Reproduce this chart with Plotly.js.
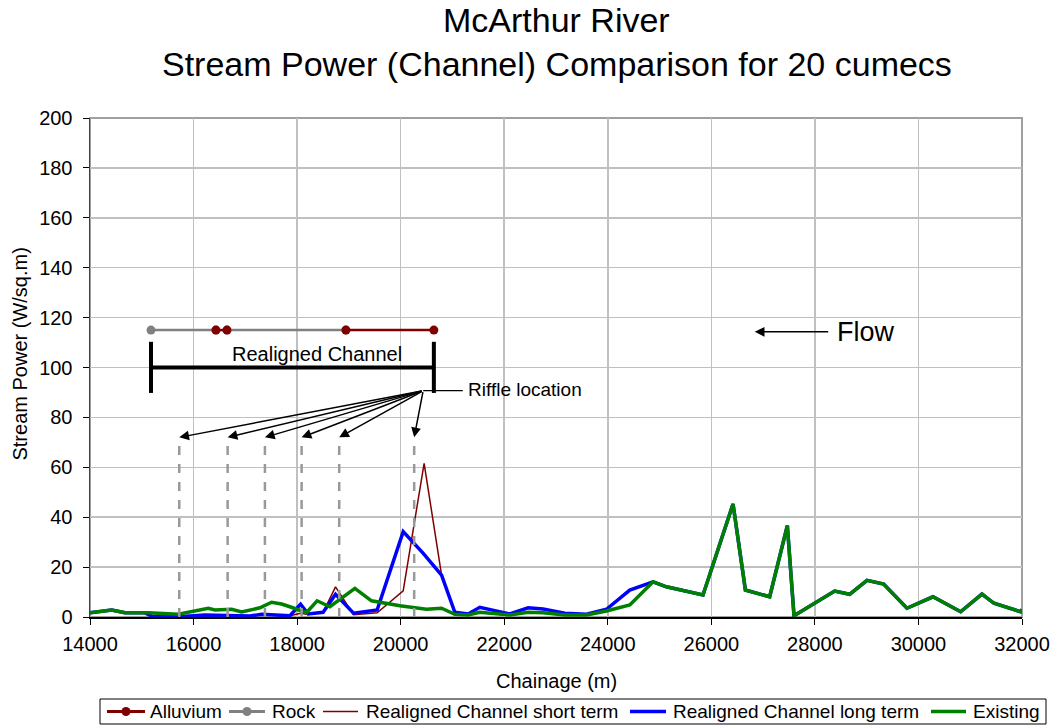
<!DOCTYPE html>
<html>
<head>
<meta charset="utf-8">
<script src="https://cdn.plot.ly/plotly-3.0.1.min.js"></script>
<style>html,body{margin:0;padding:0;background:#fff;}#chart{width:1056px;height:726px;}</style>
</head>
<body>
<div id="chart"></div>
<script>
// Existing
const existingX = [14000,14419,14676,15127,15705,15930,16284,16413,16735,16928,17282,17507,17700,17861,18181,18386,18633,19116,19437,19985,20498,20789,21046,21303,21529,22108,22462,22751,23170,23589,23975,24425,24875,25132,25839,26419,26658,27127,27468,27597,28382,28671,29006,29328,29778,30280,30815,31227,31458,31973,32000];
const existingY = [1.7,2.8,1.7,1.7,1.1,2.1,3.5,2.8,3.1,2.0,3.7,5.9,5.2,4.1,1.7,6.5,4.1,11.5,6.5,4.5,3.1,3.5,1.1,0.8,1.9,0.8,1.9,1.7,0.8,0.8,2.4,4.8,14.1,12.1,8.8,45.3,10.8,8.1,36.6,0.5,10.4,9.1,14.7,13.2,3.5,8.1,2.1,9.2,5.5,2.1,3.0];

// Realigned Channel long term
const longX = [14000,14419,14676,15050,15200,15705,16220,17090,17315,17861,18067,18214,18502,18742,19090,19546,20049,20436,20790,21046,21303,21529,22108,22462,22751,23170,23589,23975,24425,24875,25132,25839,26419,26658,27127,27468,27597,28382,28671,29006,29328,29778,30280,30815,31227,31458,31973,32000];
const longY = [1.7,2.8,1.7,1.7,0.3,0.1,0.8,0.4,1.1,0.5,5.1,1.2,1.9,9.1,1.5,2.8,34.2,25.5,16.8,1.9,1.2,3.9,1.2,3.7,3.2,1.5,1.1,3.1,10.8,14.1,12.1,8.8,45.3,10.8,8.1,36.6,0.5,10.4,9.1,14.7,13.2,3.5,8.1,2.1,9.2,5.5,2.1,3.0];

// Realigned Channel short term
const shortX = [14000,14419,14676,15050,15200,15705,16220,17090,17315,17861,18067,18214,18502,18742,19090,19546,20049,20453,20790,21046,21303,21529,22108,22462,22751,23170,23589,23975,24425,24875,25132,25839,26419,26658,27127,27468,27597,28382,28671,29006,29328,29778,30280,30815,31227,31458,31973,32000];
const shortY = [1.7,2.8,1.7,1.7,0.3,0.1,0.8,0.4,1.1,0.5,1.5,1.0,1.9,12.1,0.9,1.7,10.5,61.6,16.8,1.9,1.2,3.9,1.2,3.7,3.2,1.5,1.1,3.1,10.8,14.1,12.1,8.8,45.3,10.8,8.1,36.6,0.5,10.4,9.1,14.7,13.2,3.5,8.1,2.1,9.2,5.5,2.1,3.0];

// Reach substrate bands
const alluviumX = [16432,16645,null,18942,20641];
const alluviumY = [115,115,null,115,115];
const rockX = [15178,16432,null,16645,18942];
const rockY = [115,115,null,115,115];

// Riffle locations (chainage) and top of markers
const riffleX = [15724,16658,17378,18087,18813,20261];
const riffleTop = 71.5;
const riffleOrigin = {x: 20435, y: 90.7};
const channelStart = 15178, channelEnd = 20641;

// Series names (legend order)
const seriesNames = ['Alluvium', 'Rock', 'Realigned Channel short term', 'Realigned Channel long term', 'Existing'];
const seriesColors = ['#800000', '#808080', '#800000', '#0000ff', '#008000'];

const FONT = 'Liberation Sans, Arial, sans-serif';

const traces = [
  {x: rockX, y: rockY, name: seriesNames[1], mode: 'lines+markers',
   line: {color: seriesColors[1], width: 2.5}, marker: {color: seriesColors[1], size: 9}},
  {x: alluviumX, y: alluviumY, name: seriesNames[0], mode: 'lines+markers',
   line: {color: seriesColors[0], width: 2.5}, marker: {color: seriesColors[0], size: 9}},
  {x: shortX, y: shortY, name: seriesNames[2], mode: 'lines',
   line: {color: seriesColors[2], width: 1.5}},
  {x: longX, y: longY, name: seriesNames[3], mode: 'lines',
   line: {color: seriesColors[3], width: 3.5}},
  {x: existingX, y: existingY, name: seriesNames[4], mode: 'lines',
   line: {color: seriesColors[4], width: 3.5}}
];

// pixel -> paper helpers for the legend box
const PL = 90, PR = 1022, PT = 118, PB = 617;
const px = v => (v - PL) / (PR - PL);
const py = v => (PB - v) / (PB - PT);

const shapes = [];
riffleX.forEach(x => shapes.push({type: 'line', xref: 'x', yref: 'y', x0: x, x1: x, y0: 0, y1: riffleTop,
  line: {color: '#999999', width: 2.5, dash: 'dash'}, layer: 'above'}));
shapes.push({type: 'line', xref: 'x', yref: 'y', x0: channelStart, x1: channelEnd, y0: 100, y1: 100, line: {color: '#000', width: 4}});
shapes.push({type: 'line', xref: 'x', yref: 'y', x0: channelStart, x1: channelStart, y0: 89.8, y1: 110.3, line: {color: '#000', width: 4}});
shapes.push({type: 'line', xref: 'x', yref: 'y', x0: channelEnd, x1: channelEnd, y0: 89.8, y1: 110.3, line: {color: '#000', width: 4}});
shapes.push({type: 'line', xref: 'x', yref: 'y', x0: riffleOrigin.x, x1: 21200, y0: riffleOrigin.y, y1: riffleOrigin.y, line: {color: '#000', width: 1.2}});
shapes.push({type: 'rect', xref: 'paper', yref: 'paper', x0: 0, x1: 1, y0: 0, y1: 1, line: {color: '#a0a0a0', width: 2}, layer: 'below'});

const annotations = [];
riffleX.forEach(x => annotations.push({x: x, y: riffleTop + 0.5, xref: 'x', yref: 'y',
  ax: riffleOrigin.x, ay: riffleOrigin.y, axref: 'x', ayref: 'y', text: '', showarrow: true,
  arrowhead: 2, arrowsize: 1.3, arrowwidth: 1.5, arrowcolor: '#000'}));
annotations.push({x: 21260, y: 91, xref: 'x', yref: 'y', text: 'Riffle location', showarrow: false,
  xanchor: 'left', font: {family: FONT, size: 19, color: '#000'}});
annotations.push({x: 18382, y: 105.5, xref: 'x', yref: 'y', text: 'Realigned Channel', showarrow: false,
  font: {family: FONT, size: 20, color: '#000'}});
annotations.push({x: 26838, y: 114.3, xref: 'x', yref: 'y', ax: 28286, ay: 114.3, axref: 'x', ayref: 'y',
  text: '', showarrow: true, arrowhead: 2, arrowsize: 1.3, arrowwidth: 1.5, arrowcolor: '#000'});
annotations.push({x: 28390, y: 114.3, xref: 'x', yref: 'y', text: 'Flow', showarrow: false,
  xanchor: 'left', font: {family: FONT, size: 27, color: '#000'}});
// titles
annotations.push({x: 0.501, y: 1.196, xref: 'paper', yref: 'paper', text: 'McArthur River', showarrow: false,
  xanchor: 'center', yanchor: 'middle', font: {family: FONT, size: 34, color: '#000'}});
annotations.push({x: 0.501, y: 1.108, xref: 'paper', yref: 'paper', text: 'Stream Power (Channel) Comparison for 20 cumecs', showarrow: false,
  xanchor: 'center', yanchor: 'middle', font: {family: FONT, size: 34, color: '#000'}});
annotations.push({x: 0.501, y: -0.128, xref: 'paper', yref: 'paper', text: 'Chainage (m)', showarrow: false,
  xanchor: 'center', yanchor: 'middle', font: {family: FONT, size: 20, color: '#000'}});
annotations.push({x: -0.0751, y: 0.526, xref: 'paper', yref: 'paper', text: 'Stream Power (W/sq.m)', showarrow: false,
  textangle: -90, xanchor: 'center', yanchor: 'middle', font: {family: FONT, size: 20, color: '#000'}});

// Legend box (drawn as shapes + text to match the compact original box)
const legY = 711.5;
shapes.push({type: 'rect', xref: 'paper', yref: 'paper', x0: px(100), x1: px(1046), y0: py(724), y1: py(699),
  line: {color: '#000', width: 1}, fillcolor: '#fff'});
const legItems = [
  {i: 0, l0: 107, l1: 145, t: 148, w: 3, mk: true},
  {i: 1, l0: 229, l1: 265, t: 270, w: 3, mk: true},
  {i: 2, l0: 323, l1: 358, t: 364, w: 1.5, mk: false},
  {i: 3, l0: 630, l1: 666, t: 671, w: 3.5, mk: false},
  {i: 4, l0: 931, l1: 966, t: 971, w: 3.5, mk: false}
];
legItems.forEach(it => {
  const c = seriesColors[it.i];
  shapes.push({type: 'line', xref: 'paper', yref: 'paper', x0: px(it.l0), x1: px(it.l1), y0: py(legY), y1: py(legY),
    line: {color: c, width: it.w}});
  if (it.mk) {
    const cx = (it.l0 + it.l1) / 2, r = 4.5;
    shapes.push({type: 'circle', xref: 'paper', yref: 'paper', x0: px(cx - r), x1: px(cx + r), y0: py(legY + r), y1: py(legY - r),
      line: {color: c, width: 0}, fillcolor: c});
  }
  annotations.push({x: px(it.t), y: py(legY), xref: 'paper', yref: 'paper', text: seriesNames[it.i], showarrow: false,
    xanchor: 'left', yanchor: 'middle', font: {family: FONT, size: 19, color: '#000'}});
});

const layout = {
  width: 1056, height: 726,
  margin: {l: 90, r: 34, t: 118, b: 109},
  paper_bgcolor: '#fff', plot_bgcolor: '#fff',
  font: {family: FONT, color: '#000'},
  xaxis: {range: [14000, 32000], tick0: 14000, dtick: 2000, tickformat: 'd', showgrid: true, gridcolor: '#c0c0c0', gridwidth: 1.5,
    ticks: 'outside', ticklen: 6, tickcolor: '#000', showline: true, linecolor: '#000', linewidth: 1.5,
    zeroline: false, tickfont: {family: FONT, size: 20, color: '#000'}, ticklabelstandoff: 2, automargin: false},
  yaxis: {range: [0, 200], tick0: 0, dtick: 20, showgrid: true, gridcolor: '#c0c0c0', gridwidth: 1.5,
    ticks: 'outside', ticklen: 6, tickcolor: '#000', showline: true, linecolor: '#404040', linewidth: 1.5,
    zeroline: false, tickfont: {family: FONT, size: 20, color: '#000'}, ticklabelstandoff: 6, automargin: false},
  showlegend: false,
  shapes: shapes,
  annotations: annotations
};

Plotly.newPlot('chart', traces, layout, {displayModeBar: false, staticPlot: true});
</script>
</body>
</html>
